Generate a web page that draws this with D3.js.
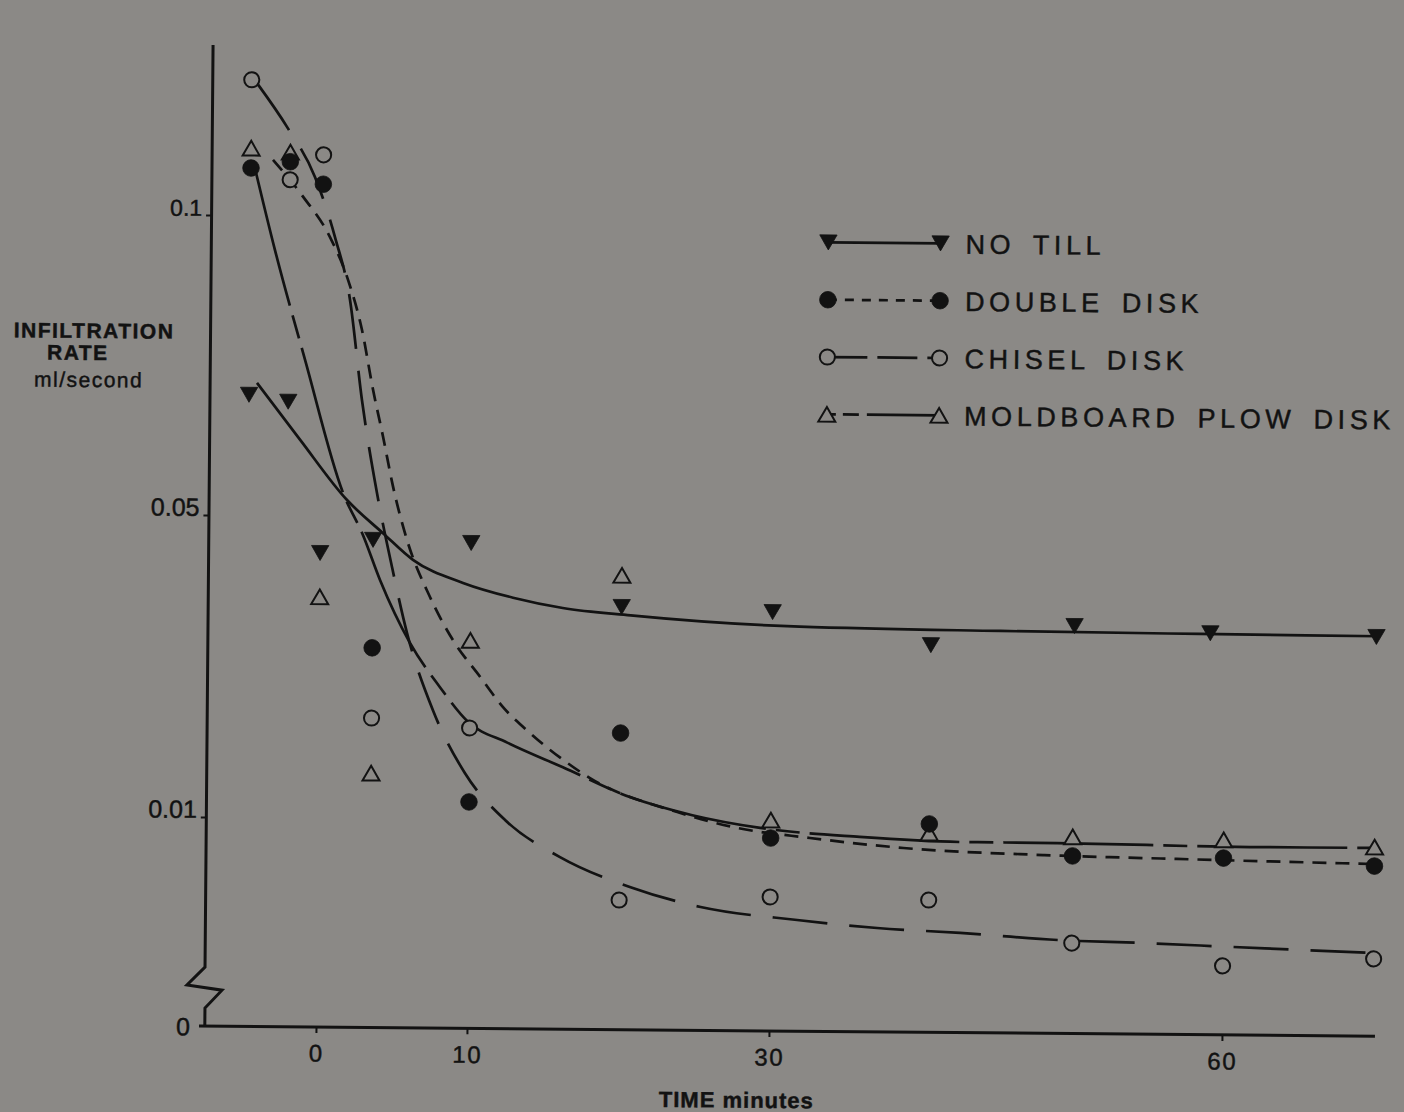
<!DOCTYPE html>
<html>
<head>
<meta charset="utf-8">
<script src="https://cdn.jsdelivr.net/npm/d3@7"></script>
<style>
  html, body { margin: 0; padding: 0; background: #8b8986; }
  svg { display: block; }
  text { font-family: "Liberation Sans", Arial, Helvetica, sans-serif; fill: #121212;
         stroke: #121212; stroke-width: 0.45px; }
</style>
</head>
<body>
<svg id="chart" width="1404" height="1112"></svg>
<script>
// ---- measurement times (minutes) ----
const times       = [-4.8, -2.2, 0, 3.5, 10, 20, 30, 40.5, 50, 60, 70];
const noTillTimes = [-4.8, -2.2, 0, 3.5, 10, 20, 30, 40.5, 50, 59, 70];

// ---- infiltration rate, ml/second ----
const noTill     = [0.0701, 0.0690, 0.0451, 0.0469, 0.0466, 0.0383, 0.0378, 0.0336, 0.0363, 0.0355, 0.0352];
const doubleDisk = [0.1079, 0.1090, 0.1053, 0.0326, 0.0123, 0.0216, 0.00923, 0.00997, 0.0085, 0.00846, 0.00814];
const chiselDisk = [0.1226, 0.1060, 0.1102, 0.0233, 0.0221, 0.0062, 0.00641, 0.00633, 0.00433, 0.0033, 0.0037];
const moldboard  = [0.1112, 0.1106, 0.0393, 0.0160, 0.0337, 0.0425, 0.01025, 0.00954, 0.00941, 0.00933, 0.00905];

// ---- fitted curves: [minutes, ml/second] ----
const noTillFit = [[-4.28,0.0721],[-1.4,0.0627],[1.75,0.0527],[4.15,0.0478],[6.15,0.0443],[9.48,0.0413],
  [12.8,0.0394],[16.1,0.0381],[20.6,0.0372],[31.8,0.0359],[45.1,0.03556],[58.3,0.0354],[70.2,0.0353]];
const doubleDiskFit = [[-3.35,0.1093],[-1.34,0.1032],[0.47,0.0965],[1.69,0.0894],[2.64,0.0811],[3.41,0.0711],
  [4.10,0.0633],[4.79,0.0550],[5.75,0.0469],[7.30,0.0394],[8.85,0.0337],[10.66,0.0289],[12.2,0.0249],
  [14.0,0.0215],[16.2,0.0180],[18.0,0.0156],[23.8,0.0112],[27.5,0.00974],[32.6,0.00925],[38.8,0.00881],
  [48.05,0.00853],[56.9,0.0084],[69.8,0.00824]];
const chiselDiskFit = [[-4.38,0.1218],[-2.44,0.1148],[-0.56,0.1065],[0.80,0.0965],[1.83,0.0861],[2.68,0.0694],
  [3.73,0.0539],[4.77,0.0433],[5.80,0.0346],[7.56,0.0244],[9.72,0.0161],[12.4,0.00998],[16.06,0.00823],
  [20.7,0.00683],[25.4,0.0059],[31.8,0.00532],[37.1,0.00497],[42.6,0.00477],[49.1,0.00447],[54.85,0.00436],
  [60.68,0.00421],[66.6,0.00406],[69.96,0.00398]];
const moldboardFit = [[-4.67,0.1092],[-3.17,0.0943],[-1.11,0.0760],[1.48,0.0539],[2.83,0.0475],[3.98,0.0416],
  [6.0,0.0333],[8.0,0.0275],[9.9,0.0229],[12.5,0.0202],[16.2,0.0170],[20.7,0.0131],[24.8,0.0108],
  [29.3,0.00971],[35.9,0.00932],[42.5,0.00912],[48.97,0.00911],[61.75,0.009],[70.2,0.00901]];

// ---- axis ticks and labels ----
const xTickValues = [0, 10, 30, 60];
const yTickValues = [0, 0.01, 0.05, 0.1];
const yTickLabels = ["0", "0.01", "0.05", "0.1"];
const legendLabels = ["NO TILL", "DOUBLE DISK", "CHISEL DISK", "MOLDBOARD PLOW DISK"];

// ---- drawing ----
const W = 1404, H = 1112;
const BG = "#8b8986", INK = "#121212";

const x = d3.scaleLinear().domain([0, 60]).range([316, 1222]);
// broken y axis: tick marks equally spaced above 0.01, compressed segment down to 0
const y = d3.scaleLinear().domain(yTickValues).range([1027, 818, 516, 216]);

const svg = d3.select("#chart");
svg.append("rect").attr("width", W).attr("height", H).attr("fill", BG);

// the printed figure sits slightly askew on the page
const g = svg.append("g").attr("transform", "rotate(0.5,317,1027)");

// x axis
const gx = g.append("g")
  .attr("transform", "translate(0,1027)")
  .attr("color", INK)
  .call(d3.axisBottom(x).tickValues(xTickValues).tickSize(6).tickFormat(d3.format("d")));
gx.select(".domain").remove();
gx.selectAll(".tick line").attr("stroke-width", 2);
gx.selectAll(".tick text")
  .attr("y", 26).attr("dy", "0.36em")
  .style("font-size", "24px").style("letter-spacing", "1.5px");
g.append("line")
  .attr("x1", 199).attr("x2", 1375).attr("y1", 1027).attr("y2", 1027)
  .attr("stroke", INK).attr("stroke-width", 3);

// y axis with break symbol
const gy = g.append("g")
  .attr("transform", "translate(205,0)")
  .attr("color", INK)
  .call(d3.axisLeft(y).tickValues(yTickValues).tickSize(6).tickPadding(4)
        .tickFormat((d, i) => yTickLabels[i]));
gy.select(".domain").remove();
gy.selectAll(".tick line").attr("stroke-width", 2).filter(d => d === 0).remove();
gy.selectAll(".tick text")
  .attr("dy", d => d === 0 ? "0.36em" : "0.02em")
  .attr("x", d => d === 0 ? -15 : -10)
  .style("font-size", d => d === 0.1 ? "23px" : "25px");

const axisBreak = [[204.5, 46], [204.5, 968], [186.6, 986], [221.7, 991], [204.8, 1009], [204.8, 1027]];
g.append("path")
  .attr("d", d3.line()(axisBreak))
  .attr("fill", "none").attr("stroke", INK).attr("stroke-width", 3)
  .attr("stroke-linejoin", "miter");

// axis titles
g.append("text").attr("x", 737).attr("y", 1104).attr("text-anchor", "middle")
  .style("font-size", "22px").style("font-weight", "bold").style("letter-spacing", "1px")
  .text("TIME minutes");
const yTitle = g.append("text").attr("text-anchor", "middle")
  .style("font-size", "21px").style("font-weight", "bold").style("letter-spacing", "1.5px");
yTitle.append("tspan").attr("x", 88).attr("y", 340).text("INFILTRATION");
yTitle.append("tspan").attr("x", 72).attr("y", 362).text("RATE");
yTitle.append("tspan").attr("x", 83).attr("y", 389).style("font-weight", "normal").text("ml/second");

// marker shapes
const triUp = { draw(ctx, size) {
  const w = Math.sqrt(size * 4 / Math.sqrt(3)), h = w * Math.sqrt(3) / 2;
  ctx.moveTo(0, -h / 2); ctx.lineTo(w / 2, h / 2); ctx.lineTo(-w / 2, h / 2); ctx.closePath();
}};
const triDown = { draw(ctx, size) {
  const w = Math.sqrt(size * 4 / Math.sqrt(3)), h = w * Math.sqrt(3) / 2;
  ctx.moveTo(0, h / 2); ctx.lineTo(w / 2, -h / 2); ctx.lineTo(-w / 2, -h / 2); ctx.closePath();
}};

const series = [
  { t: noTillTimes, v: noTill,     fit: noTillFit,     shape: triDown, size: 130, filled: true,
    dash: null, legendDash: null },
  { t: times,       v: doubleDisk, fit: doubleDiskFit, shape: d3.symbolCircle, size: 216, filled: true,
    dash: "14,9", legendDash: "9,8" },
  { t: times,       v: chiselDisk, fit: chiselDiskFit, shape: d3.symbolCircle, size: 180, filled: false,
    dash: "55,22", legendDash: "40,10" },
  { t: times,       v: moldboard,  fit: moldboardFit,  shape: triUp, size: 125, filled: false,
    dash: "150,10,24,10", legendDash: "9,7,16,8,100" }
];

const curve = d3.line().x(d => x(d[0])).y(d => y(d[1])).curve(d3.curveMonotoneX);

// fitted curves
series.forEach(s => {
  g.append("path")
    .attr("d", curve(s.fit))
    .attr("fill", "none").attr("stroke", INK).attr("stroke-width", 2.7)
    .attr("stroke-dasharray", s.dash);
});

// data points (open marks first, filled circles on top)
const drawOrder = [0, 3, 2, 1];
drawOrder.forEach(k => {
  const s = series[k];
  const pts = s.t.map((t, i) => [t, s.v[i]]);
  g.append("g").selectAll("path").data(pts).join("path")
    .attr("transform", d => `translate(${x(d[0])},${y(d[1])})`)
    .attr("d", d3.symbol(s.shape, s.size))
    .attr("fill", s.filled ? INK : BG)
    .attr("stroke", INK).attr("stroke-width", s.filled ? 0.8 : 2);
});

// legend
const legendY0 = 238, legendStep = 57.3;
const lg = g.append("g");
series.forEach((s, i) => {
  const ly = legendY0 + i * legendStep;
  lg.append("line")
    .attr("x1", 821.5).attr("x2", 933.7).attr("y1", ly).attr("y2", ly)
    .attr("stroke", INK).attr("stroke-width", 2.7)
    .attr("stroke-dasharray", s.legendDash);
  [821.5, 933.7].forEach(px => {
    lg.append("path")
      .attr("transform", `translate(${px},${ly})`)
      .attr("d", d3.symbol(s.shape, s.size)())
      .attr("fill", s.filled ? INK : BG)
      .attr("stroke", INK).attr("stroke-width", s.filled ? 0.8 : 2);
  });
  lg.append("text")
    .attr("x", 958.7).attr("y", ly + 10)
    .style("font-size", "27px").style("letter-spacing", "4.6px").style("word-spacing", "6px")
    .text(legendLabels[i]);
});
</script>
</body>
</html>
